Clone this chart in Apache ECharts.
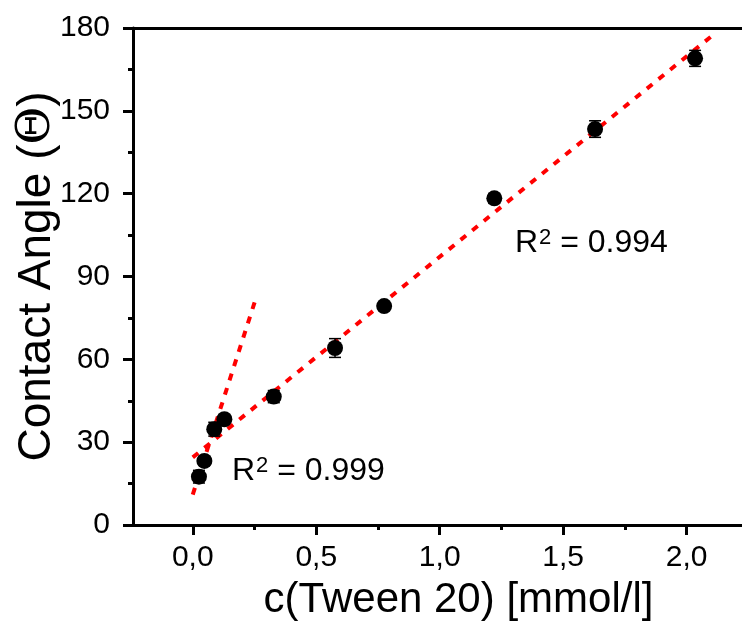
<!DOCTYPE html>
<html><head><meta charset="utf-8">
<script src="https://cdn.jsdelivr.net/npm/echarts@6/dist/echarts.min.js"></script>
<style>html,body{margin:0;padding:0;background:#fff}#c{width:742px;height:624px}</style>
</head><body><div id="c"></div>
<script>
// measured data (c(Tween 20) in mmol/l, contact angle, error)
const concentration = [0.025, 0.047, 0.087, 0.128, 0.328, 0.576, 0.775, 1.221, 1.629, 2.034];
const contactAngle  = [17.5, 23.2, 34.7, 38.3, 46.5, 64.1, 79.3, 118.3, 143.4, 169.0];
const angleError    = [2.3, 1.5, 2.5, 1.5, 2.2, 3.4, 1.0, 1.8, 3.0, 2.9];
// linear fit lines (endpoints)
const fitLowX  = [0, 0.256];
const fitLowY  = [11, 82.2];
const fitHighX = [0, 2.10];
const fitHighY = [24.5, 177];
// ticks
const xMajorTicks = [0, 0.5, 1.0, 1.5, 2.0];
const xMinorTicks = [0.25, 0.75, 1.25, 1.75];
const r2Low = '0.999';
const r2High = '0.994';

const FONT = '"Liberation Sans", Arial, sans-serif';
const points = concentration.map((x, i) => [x, contactAngle[i], angleError[i]]);
const lowLine = fitLowX.map((x, i) => [x, fitLowY[i]]);
const highLine = fitHighX.map((x, i) => [x, fitHighY[i]]);

const chart = echarts.init(document.getElementById('c'), null, {renderer: 'canvas'});
const xMin = -0.242, xMax = 2.224;
const axisStyle = {color: '#000', width: 3};
const r2Rich = {
  r: {fontSize: 32, fontFamily: FONT, fill: '#000', verticalAlign: 'bottom'},
  s: {fontSize: 22, fontFamily: FONT, fill: '#000', verticalAlign: 'top', padding: [0, 0, 4, 1]}
};
chart.setOption({
  animation: false,
  backgroundColor: '#fff',
  grid: {left: 133, right: 0, top: 28, bottom: 99, containLabel: false, outerBoundsMode: 'none'},
  xAxis: [
    {
      type: 'value', min: xMin, max: xMax, position: 'bottom',
      axisLine: {show: true, onZero: false, lineStyle: axisStyle},
      axisTick: {show: true, length: 10, lineStyle: axisStyle, customValues: xMajorTicks},
      axisLabel: {show: true, customValues: xMajorTicks, color: '#000', fontSize: 30, fontFamily: FONT, margin: 18,
        formatter: v => v.toFixed(1).replace('.', ',')},
      splitLine: {show: false},
      name: 'c(Tween 20) [mmol/l]', nameLocation: 'middle', nameGap: 54,
      nameTextStyle: {color: '#000', fontSize: 42, fontFamily: FONT, padding: [0, 0, 0, 42]}
    },
    {
      type: 'value', min: xMin, max: xMax, position: 'bottom',
      axisLine: {show: false},
      axisTick: {show: true, length: 5, lineStyle: axisStyle, customValues: xMinorTicks},
      axisLabel: {show: false}, splitLine: {show: false}
    },
    {
      type: 'value', min: xMin, max: xMax, position: 'top',
      axisLine: {show: true, onZero: false, lineStyle: axisStyle},
      axisTick: {show: false}, axisLabel: {show: false}, splitLine: {show: false}
    }
  ],
  yAxis: {
    type: 'value', min: 0, max: 180, interval: 30,
    axisLine: {show: true, onZero: false, lineStyle: axisStyle},
    axisTick: {show: true, length: 10, lineStyle: axisStyle},
    minorTick: {show: true, splitNumber: 2, length: 5, lineStyle: axisStyle},
    axisLabel: {color: '#000', fontSize: 30, fontFamily: FONT, margin: 23},
    splitLine: {show: false}, minorSplitLine: {show: false},
    name: 'Contact Angle ({t|Θ})', nameLocation: 'middle', nameGap: 73, nameMoveOverlap: false,
    nameTextStyle: {color: '#000', fontSize: 46, fontFamily: FONT,
      rich: {t: {fontSize: 46, fontFamily: '"DejaVu Serif", "Liberation Serif", serif', color: '#000'}}}
  },
  series: [
    {
      type: 'line', data: lowLine, symbol: 'none', silent: true, z: 2,
      lineStyle: {color: '#ff0000', width: 4, type: [7, 8]}
    },
    {
      type: 'line', data: highLine, symbol: 'none', silent: true, z: 2,
      lineStyle: {color: '#ff0000', width: 4, type: [7, 8]}
    },
    {
      type: 'custom', data: points, z: 3,
      renderItem: function (params, api) {
        const x = api.value(0), y = api.value(1), e = api.value(2);
        const t = api.coord([x, y + e]), b = api.coord([x, y - e]);
        const hw = 6, st = {stroke: '#000', lineWidth: 1.5};
        return {type: 'group', children: [
          {type: 'line', shape: {x1: t[0], y1: t[1], x2: b[0], y2: b[1]}, style: st},
          {type: 'line', shape: {x1: t[0] - hw, y1: t[1], x2: t[0] + hw, y2: t[1]}, style: st},
          {type: 'line', shape: {x1: b[0] - hw, y1: b[1], x2: b[0] + hw, y2: b[1]}, style: st}
        ]};
      }
    },
    {
      type: 'scatter', data: points, symbol: 'circle', symbolSize: 16, z: 4,
      itemStyle: {color: '#000', opacity: 1}
    }
  ],
  graphic: [
    {type: 'text', left: 232, top: 455, z: 10,
      style: {text: '{r|R}{s|2}{r| = ' + r2Low + '}', rich: r2Rich}},
    {type: 'text', left: 515, top: 227, z: 10,
      style: {text: '{r|R}{s|2}{r| = ' + r2High + '}', rich: r2Rich}}
  ]
});
</script></body></html>
